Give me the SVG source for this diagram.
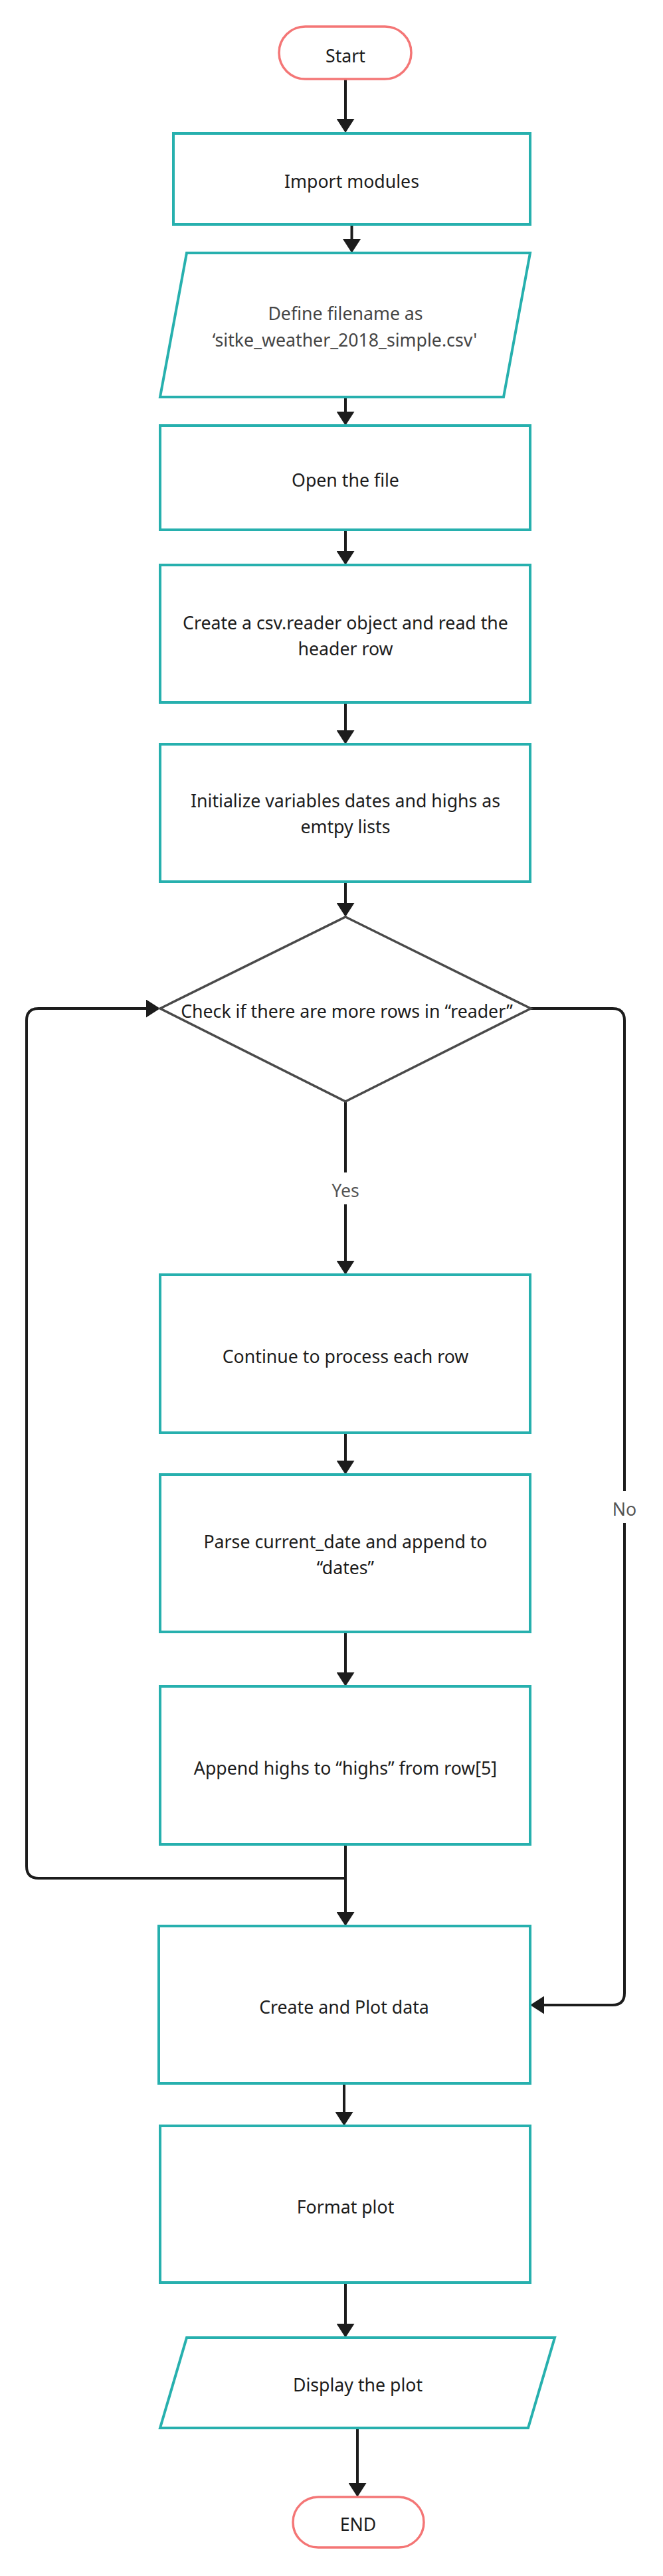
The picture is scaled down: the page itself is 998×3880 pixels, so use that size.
<svg xmlns="http://www.w3.org/2000/svg" width="998" height="3880" viewBox="0 0 998 3880">
<style>
.term{fill:#fff;stroke:#F47676;stroke-width:3.5}
.proc{fill:#fff;stroke:#27B0AE;stroke-width:4}
.dec{fill:#fff;stroke:#4a4a4a;stroke-width:3.5}
.t{font-family:"Noto Sans","Open Sans","DejaVu Sans",sans-serif;font-size:26.7px;fill:#1c1c1c;text-anchor:middle}
.g{fill:#454545}
.lbl{font-family:"Noto Sans","Open Sans","DejaVu Sans",sans-serif;font-size:26.7px;fill:#555;text-anchor:middle}
.c{fill:none;stroke:#1c1c1c;stroke-width:4}
</style>
<defs>
<marker id="ah" markerUnits="userSpaceOnUse" viewBox="0 0 21 27" refX="16" refY="13.5" markerWidth="21" markerHeight="27" orient="auto">
<path d="M0,0 L21,13.5 L0,27 z" fill="#1c1c1c"/>
</marker>
</defs>
<rect width="998" height="3880" fill="#fff"/>
<g id="connectors">
<path class="c" d="M520,119 V195" marker-end="url(#ah)"/>
<path class="c" d="M529.5,338 V376" marker-end="url(#ah)"/>
<path class="c" d="M520,598 V636" marker-end="url(#ah)"/>
<path class="c" d="M520,798 V846" marker-end="url(#ah)"/>
<path class="c" d="M520,1058 V1116" marker-end="url(#ah)"/>
<path class="c" d="M520,1328 V1376" marker-end="url(#ah)"/>
<path class="c" d="M520,1659 V1766"/>
<path class="c" d="M520,1814 V1915" marker-end="url(#ah)"/>
<path class="c" d="M520,2158 V2216" marker-end="url(#ah)"/>
<path class="c" d="M520,2458 V2535" marker-end="url(#ah)"/>
<path class="c" d="M520,2778 V2896" marker-end="url(#ah)"/>
<path class="c" d="M520,2829 H58 Q40,2829 40,2811 V1537 Q40,1519 58,1519 H236" marker-end="url(#ah)"/>
<path class="c" d="M799,1519 H922 Q940,1519 940,1537 V2246"/>
<path class="c" d="M940,2294 V3002 Q940,3020 922,3020 H803" marker-end="url(#ah)"/>
<path class="c" d="M518,3138 V3197" marker-end="url(#ah)"/>
<path class="c" d="M520,3438 V3516" marker-end="url(#ah)"/>
<path class="c" d="M538,3657 V3756" marker-end="url(#ah)"/>
<text class="lbl" x="520" y="1802.5">Yes</text>
<text class="lbl" x="940" y="2283.3">No</text>
</g>
<g id="start">
<rect class="term" x="420" y="40" width="199" height="79" rx="39.5"/>
<text class="t" x="520" y="93.5">Start</text>
</g>
<g id="import">
<rect class="proc" x="261" y="201" width="537" height="137"/>
<text class="t" x="529.5" y="283">Import modules</text>
</g>
<g id="define">
<polygon class="proc" points="281,381 798,381 758,598 241,598"/>
<text class="t g" x="520" y="481.7">Define filename as</text>
<text class="t g" x="519" y="521.7">‘sitke_weather_2018_simple.csv'</text>
</g>
<g id="open">
<rect class="proc" x="241" y="641" width="557" height="157"/>
<text class="t" x="520" y="733">Open the file</text>
</g>
<g id="reader">
<rect class="proc" x="241" y="851" width="557" height="207"/>
<text class="t" x="520" y="948">Create a csv.reader object and read the</text>
<text class="t" x="520" y="987">header row</text>
</g>
<g id="init">
<rect class="proc" x="241" y="1121" width="557" height="207"/>
<text class="t" x="520" y="1216">Initialize variables dates and highs as</text>
<text class="t" x="520" y="1255">emtpy lists</text>
</g>
<g id="check">
<polygon class="dec" points="520,1381 799,1519 520,1659 241,1519"/>
<text class="t" x="522" y="1532.5">Check if there are more rows in “reader”</text>
</g>
<g id="continue">
<rect class="proc" x="241" y="1920" width="557" height="238"/>
<text class="t" x="520" y="2052.5">Continue to process each row</text>
</g>
<g id="parse">
<rect class="proc" x="241" y="2221" width="557" height="237"/>
<text class="t" x="520" y="2332">Parse current_date and append to</text>
<text class="t" x="520" y="2371">“dates”</text>
</g>
<g id="append">
<rect class="proc" x="241" y="2540" width="557" height="238"/>
<text class="t" x="520" y="2672.5">Append highs to “highs” from row[5]</text>
</g>
<g id="plot">
<rect class="proc" x="239" y="2901" width="559" height="237"/>
<text class="t" x="518" y="3033">Create and Plot data</text>
</g>
<g id="format">
<rect class="proc" x="241" y="3202" width="557" height="236"/>
<text class="t" x="520" y="3334">Format plot</text>
</g>
<g id="display">
<polygon class="proc" points="281,3521 835,3521 795,3657 241,3657"/>
<text class="t" x="538.5" y="3602">Display the plot</text>
</g>
<g id="end">
<rect class="term" x="441" y="3761" width="197" height="76" rx="38"/>
<text class="t" x="539" y="3811.5">END</text>
</g>
</svg>
